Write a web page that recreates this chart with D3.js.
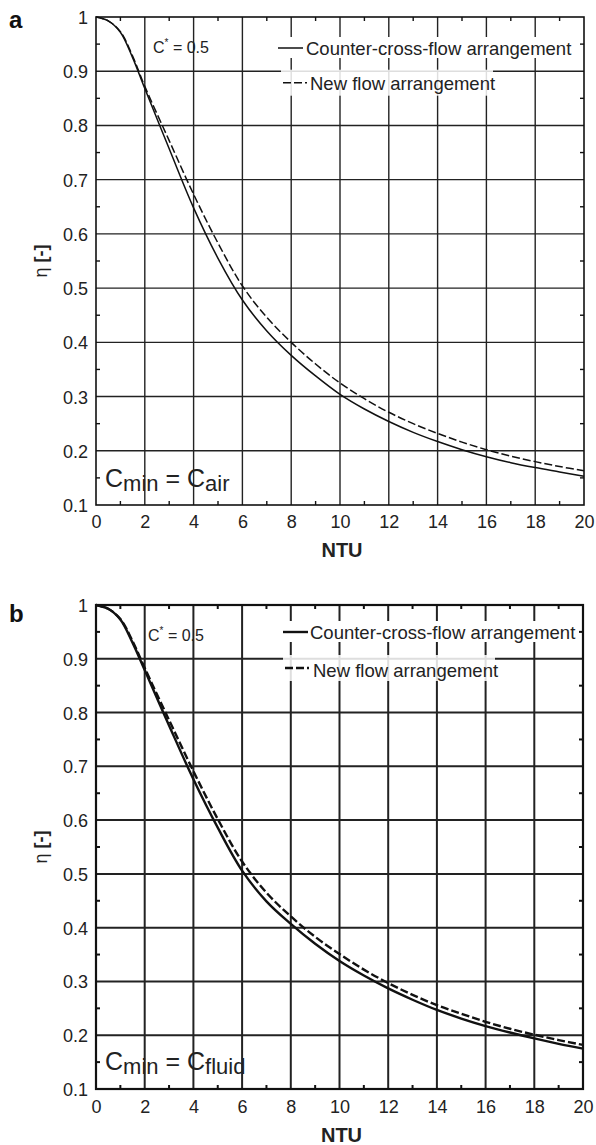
<!DOCTYPE html>
<html><head><meta charset="utf-8">
<script src="https://cdn.jsdelivr.net/npm/d3@7"></script>
<style>
html,body{margin:0;padding:0;background:#fff;}
svg{display:block;font-family:"Liberation Sans",Arial,sans-serif;}
</style></head>
<body>
<svg id="chart" width="596" height="1145"></svg>
<script>
// ---- data ----
const ntu       = [0, 0.5, 1, 1.5, 2, 3, 4, 5, 6, 7, 8, 9, 10, 11, 12, 13, 14, 15, 16, 17, 18, 19, 20];
const aCounter  = [1, 0.993, 0.972, 0.925, 0.868, 0.757, 0.648, 0.555, 0.478, 0.421, 0.376, 0.338, 0.304, 0.277, 0.254, 0.234, 0.217, 0.202, 0.189, 0.178, 0.169, 0.161, 0.153];
const aNew      = [1, 0.993, 0.973, 0.928, 0.872, 0.772, 0.673, 0.583, 0.504, 0.446, 0.400, 0.360, 0.325, 0.296, 0.271, 0.250, 0.232, 0.216, 0.202, 0.190, 0.180, 0.171, 0.163];
const bCounter  = [1, 0.993, 0.973, 0.930, 0.879, 0.776, 0.676, 0.586, 0.506, 0.449, 0.407, 0.370, 0.338, 0.311, 0.287, 0.266, 0.247, 0.231, 0.217, 0.205, 0.194, 0.184, 0.175];
const bNew      = [1, 0.993, 0.974, 0.933, 0.883, 0.786, 0.691, 0.602, 0.523, 0.465, 0.421, 0.383, 0.351, 0.322, 0.297, 0.275, 0.256, 0.240, 0.225, 0.212, 0.201, 0.191, 0.182];
const xTicks    = [0, 2, 4, 6, 8, 10, 12, 14, 16, 18, 20];
const xMinor    = [1, 3, 5, 7, 9, 11, 13, 15, 17, 19];
const yTicks    = [0.1, 0.2, 0.3, 0.4, 0.5, 0.6, 0.7, 0.8, 0.9, 1];
const yTickLabels = ["0.1", "0.2", "0.3", "0.4", "0.5", "0.6", "0.7", "0.8", "0.9", "1"];
const yMinor    = [0.15, 0.25, 0.35, 0.45, 0.55, 0.65, 0.75, 0.85, 0.95];
const seriesNames = ["Counter-cross-flow arrangement", "New flow arrangement"];
const panelLetters = ["a", "b"];
const cminSubs = ["air", "fluid"];

const svg = d3.select("#chart");

const panels = [
  {letter: panelLetters[0], sub: cminSubs[0], counter: aCounter, nw: aNew,
   left: 96, right: 584, top: 17, bottom: 505, gridW: 1.4, frameW: 1.6, curveW: 1.5,
   letterY: 28, cstarX: 153, cstarY: 52.5, leg1Y: 48, leg2Y: 82.7, leg1T: 55, leg2T: 90, legX: 278, txtX: 306,
   leg2X: 283, txt2X: 310, cminY: 487, tickY: 528, ntuY: 557},
  {letter: panelLetters[1], sub: cminSubs[1], counter: bCounter, nw: bNew,
   left: 96, right: 583, top: 605, bottom: 1089, gridW: 2.0, frameW: 2.2, curveW: 2.4,
   letterY: 622, cstarX: 148, cstarY: 641, leg1Y: 632, leg2Y: 668, leg1T: 639, leg2T: 677, legX: 283, txtX: 310,
   leg2X: 285, txt2X: 313, cminY: 1070, tickY: 1113, ntuY: 1142}
];

panels.forEach(p => {
  const g = svg.append("g");
  const x = d3.scaleLinear().domain([0, 20]).range([p.left, p.right]);
  const y = d3.scaleLinear().domain([0.1, 1]).range([p.bottom, p.top]);

  // grid
  g.append("g").selectAll("line").data(xTicks.slice(1, -1)).join("line")
    .attr("x1", d => x(d)).attr("x2", d => x(d)).attr("y1", p.top).attr("y2", p.bottom)
    .attr("stroke", "#222").attr("stroke-width", p.gridW);
  g.append("g").selectAll("line").data(yTicks.slice(1, -1)).join("line")
    .attr("y1", d => y(d)).attr("y2", d => y(d)).attr("x1", p.left).attr("x2", p.right)
    .attr("stroke", "#222").attr("stroke-width", p.gridW);

  // minor ticks (inside)
  const tl = 4;
  const mt = g.append("g").attr("stroke", "#111").attr("stroke-width", p.gridW);
  xMinor.forEach(v => {
    mt.append("line").attr("x1", x(v)).attr("x2", x(v)).attr("y1", p.bottom).attr("y2", p.bottom - tl);
    mt.append("line").attr("x1", x(v)).attr("x2", x(v)).attr("y1", p.top).attr("y2", p.top + tl);
  });
  yMinor.forEach(v => {
    mt.append("line").attr("y1", y(v)).attr("y2", y(v)).attr("x1", p.left).attr("x2", p.left + tl);
    mt.append("line").attr("y1", y(v)).attr("y2", y(v)).attr("x1", p.right).attr("x2", p.right - tl);
  });

  // legend backgrounds
  g.append("rect").attr("x", p.legX - 2).attr("y", p.leg1Y - 11).attr("width", 296).attr("height", 21)
    .attr("fill", "#fff");
  g.append("rect").attr("x", p.leg2X - 2).attr("y", p.leg2Y - 13).attr("width", 212).attr("height", 26)
    .attr("fill", "#fff").attr("fill-opacity", 0.85);

  // curves
  const line = d3.line().x((d, i) => x(ntu[i])).y(d => y(d)).curve(d3.curveCatmullRom.alpha(0.5));
  g.append("path").attr("d", line(p.nw)).attr("fill", "none").attr("stroke", "#111")
    .attr("stroke-width", p.curveW).attr("stroke-dasharray", "8,3");
  g.append("path").attr("d", line(p.counter)).attr("fill", "none").attr("stroke", "#111")
    .attr("stroke-width", p.curveW);

  // frame
  g.append("rect").attr("x", p.left).attr("y", p.top).attr("width", p.right - p.left)
    .attr("height", p.bottom - p.top).attr("fill", "none").attr("stroke", "#111").attr("stroke-width", p.frameW);

  // axes labels via d3 axes (no tick lines)
  const xa = g.append("g").attr("transform", `translate(0,${p.bottom})`)
    .call(d3.axisBottom(x).tickValues(xTicks).tickSize(0).tickPadding(7).tickFormat(d3.format("d")));
  xa.select(".domain").remove();
  xa.selectAll("text").attr("font-size", 18).attr("fill", "#222")
    .attr("font-family", "Liberation Sans, Arial, sans-serif")
    .attr("dy", null).attr("y", p.tickY - p.bottom);

  const ya = g.append("g").attr("transform", `translate(${p.left},0)`)
    .call(d3.axisLeft(y).tickValues(yTicks).tickSize(0).tickPadding(8)
      .tickFormat((d, i) => yTickLabels[i]));
  ya.select(".domain").remove();
  ya.selectAll("text").attr("font-size", 18).attr("fill", "#222")
    .attr("font-family", "Liberation Sans, Arial, sans-serif").attr("dy", "0.36em");

  // panel letter
  g.append("text").attr("x", 9).attr("y", p.letterY).attr("font-size", 24).attr("font-weight", "bold")
    .attr("fill", "#111").text(p.letter);

  // axis titles
  g.append("text").attr("x", (p.left + p.right) / 2 + 2).attr("y", p.ntuY).attr("text-anchor", "middle")
    .attr("font-size", 20).attr("font-weight", "bold").attr("fill", "#222").text("NTU");
  const yl = g.append("text").attr("transform", `translate(47,${(p.top + p.bottom) / 2}) rotate(-90)`)
    .attr("text-anchor", "middle").attr("font-size", 18).attr("fill", "#222");
  yl.append("tspan").text("η ");
  yl.append("tspan").attr("font-weight", "bold").text("[-]");

  // C* = 0.5
  const cs = g.append("text").attr("x", p.cstarX).attr("y", p.cstarY).attr("font-size", 16).attr("fill", "#222");
  cs.append("tspan").text("C");
  cs.append("tspan").attr("font-size", 10).attr("dy", -7).text("*");
  cs.append("tspan").attr("dy", 7).text(" = 0.5");

  // legend
  g.append("line").attr("x1", p.legX).attr("x2", p.legX + 25).attr("y1", p.leg1Y).attr("y2", p.leg1Y)
    .attr("stroke", "#111").attr("stroke-width", p.curveW);
  g.append("text").attr("x", p.txtX).attr("y", p.leg1T).attr("font-size", 18.5).attr("fill", "#222").text(seriesNames[0]);
  g.append("line").attr("x1", p.leg2X).attr("x2", p.leg2X + 24).attr("y1", p.leg2Y).attr("y2", p.leg2Y)
    .attr("stroke", "#111").attr("stroke-width", p.curveW).attr("stroke-dasharray", "8,3");
  g.append("text").attr("x", p.txt2X).attr("y", p.leg2T).attr("font-size", 18.5).attr("fill", "#222").text(seriesNames[1]);

  // Cmin = C_sub
  const cm = g.append("text").attr("x", 105).attr("y", p.cminY).attr("font-size", 25).attr("fill", "#222");
  cm.append("tspan").text("C");
  cm.append("tspan").attr("font-size", 22).attr("dy", 4).text("min");
  cm.append("tspan").attr("dy", -4).text(" = C");
  cm.append("tspan").attr("font-size", 22).attr("dy", 4).text(p.sub);
});
</script>
</body></html>
